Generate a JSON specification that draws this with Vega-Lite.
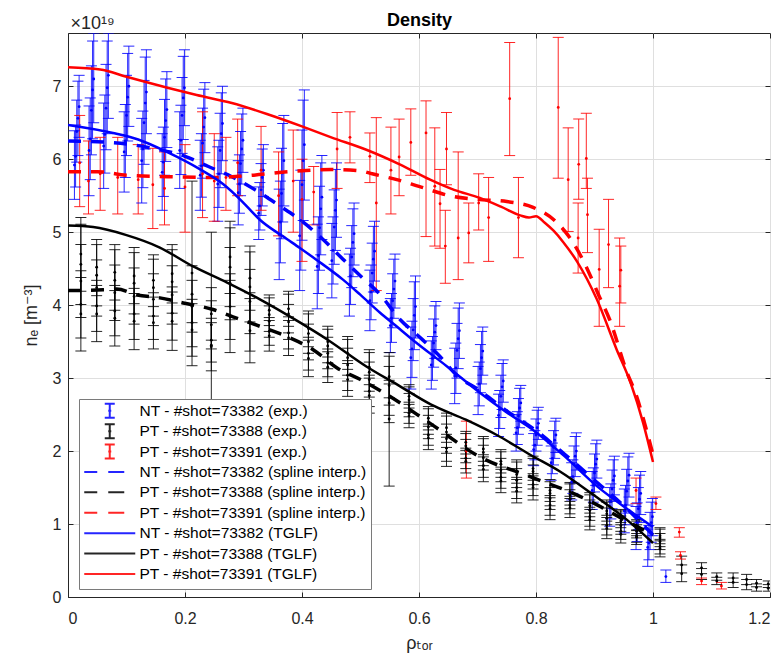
{
"$schema": "https://vega.github.io/schema/vega-lite/v6.json",
"width": 702, "height": 564,
"autosize": {"type": "none"},
"padding": {"left": 68, "top": 33, "right": 12, "bottom": 62},
"background": "white",
"config": {
  "font": "Liberation Sans",
  "view": {"stroke": "#262626", "strokeWidth": 1},
  "axis": {"domainColor": "#262626", "tickColor": "#262626", "labelColor": "#262626", "titleColor": "#262626", "gridColor": "#dfdfdf", "labelFontSize": 16, "titleFontSize": 18, "titleFontWeight": "normal", "tickSize": -5, "labelFont": "Liberation Sans", "titleFont": "Liberation Sans, DejaVu Sans"}
},
"datasets": {
"exp": [
{"s":"e1","x":0.011,"y":5.92,"l":5.45,"h":6.39},{"s":"e1","x":0.015,"y":6.38,"l":5.96,"h":6.81},{"s":"e1","x":0.019,"y":6.72,"l":6.3,"h":7.15},
{"s":"e1","x":0.036,"y":6.12,"l":5.5,"h":6.73},{"s":"e1","x":0.04,"y":6.67,"l":6.06,"h":7.28},{"s":"e1","x":0.044,"y":7.1,"l":6.5,"h":7.73},
{"s":"e1","x":0.061,"y":6.18,"l":5.6,"h":6.77},{"s":"e1","x":0.065,"y":6.7,"l":6.13,"h":7.3},{"s":"e1","x":0.069,"y":7.15,"l":6.56,"h":7.73},
{"s":"e1","x":0.096,"y":6.1,"l":5.55,"h":6.65},{"s":"e1","x":0.1,"y":6.6,"l":6.05,"h":7.15},{"s":"e1","x":0.104,"y":7.0,"l":6.45,"h":7.55},
{"s":"e1","x":0.126,"y":5.98,"l":5.4,"h":6.56},{"s":"e1","x":0.13,"y":6.5,"l":5.93,"h":7.08},{"s":"e1","x":0.134,"y":6.92,"l":6.35,"h":7.5},
{"s":"e1","x":0.161,"y":5.82,"l":5.3,"h":6.35},{"s":"e1","x":0.165,"y":6.3,"l":5.78,"h":6.82},{"s":"e1","x":0.169,"y":6.68,"l":6.16,"h":7.2},
{"s":"e1","x":0.191,"y":6.12,"l":5.6,"h":6.65},{"s":"e1","x":0.195,"y":6.6,"l":6.08,"h":7.12},{"s":"e1","x":0.199,"y":6.98,"l":6.46,"h":7.5},
{"s":"e1","x":0.226,"y":5.78,"l":5.3,"h":6.26},{"s":"e1","x":0.23,"y":6.22,"l":5.74,"h":6.7},{"s":"e1","x":0.234,"y":6.57,"l":6.09,"h":7.05},
{"s":"e1","x":0.256,"y":5.66,"l":5.15,"h":6.17},{"s":"e1","x":0.26,"y":6.12,"l":5.61,"h":6.63},{"s":"e1","x":0.264,"y":6.49,"l":5.98,"h":7.0},
{"s":"e1","x":0.291,"y":5.54,"l":5.1,"h":5.98},{"s":"e1","x":0.295,"y":5.94,"l":5.5,"h":6.38},{"s":"e1","x":0.299,"y":6.26,"l":5.82,"h":6.7},
{"s":"e1","x":0.326,"y":5.26,"l":4.9,"h":5.62},{"s":"e1","x":0.33,"y":5.58,"l":5.23,"h":5.94},{"s":"e1","x":0.334,"y":5.85,"l":5.49,"h":6.2},
{"s":"e1","x":0.361,"y":4.97,"l":4.35,"h":5.59},{"s":"e1","x":0.365,"y":5.53,"l":4.91,"h":6.15},{"s":"e1","x":0.369,"y":5.98,"l":5.36,"h":6.6},
{"s":"e1","x":0.396,"y":4.95,"l":4.2,"h":5.71},{"s":"e1","x":0.4,"y":5.65,"l":4.89,"h":6.4},{"s":"e1","x":0.404,"y":6.2,"l":5.44,"h":6.95},
{"s":"e1","x":0.426,"y":4.53,"l":3.95,"h":5.11},{"s":"e1","x":0.43,"y":5.06,"l":4.48,"h":5.63},{"s":"e1","x":0.434,"y":5.48,"l":4.9,"h":6.05},
{"s":"e1","x":0.451,"y":4.61,"l":4.1,"h":5.12},{"s":"e1","x":0.455,"y":5.07,"l":4.56,"h":5.58},{"s":"e1","x":0.459,"y":5.44,"l":4.93,"h":5.95},
{"s":"e1","x":0.481,"y":4.28,"l":3.85,"h":4.7},{"s":"e1","x":0.485,"y":4.66,"l":4.24,"h":5.09},{"s":"e1","x":0.489,"y":4.98,"l":4.55,"h":5.4},
{"s":"e1","x":0.516,"y":4.06,"l":3.65,"h":4.48},{"s":"e1","x":0.52,"y":4.44,"l":4.03,"h":4.85},{"s":"e1","x":0.524,"y":4.74,"l":4.33,"h":5.15},
{"s":"e1","x":0.551,"y":3.72,"l":3.35,"h":4.09},{"s":"e1","x":0.555,"y":4.06,"l":3.69,"h":4.43},{"s":"e1","x":0.559,"y":4.33,"l":3.96,"h":4.7},
{"s":"e1","x":0.586,"y":3.28,"l":2.85,"h":3.7},{"s":"e1","x":0.59,"y":3.66,"l":3.24,"h":4.09},{"s":"e1","x":0.594,"y":3.98,"l":3.55,"h":4.4},
{"s":"e1","x":0.621,"y":3.18,"l":2.85,"h":3.51},{"s":"e1","x":0.625,"y":3.48,"l":3.15,"h":3.81},{"s":"e1","x":0.629,"y":3.72,"l":3.39,"h":4.05},
{"s":"e1","x":0.661,"y":3.03,"l":2.65,"h":3.41},{"s":"e1","x":0.665,"y":3.38,"l":3.0,"h":3.75},{"s":"e1","x":0.669,"y":3.65,"l":3.27,"h":4.03},
{"s":"e1","x":0.701,"y":2.83,"l":2.5,"h":3.16},{"s":"e1","x":0.705,"y":3.13,"l":2.8,"h":3.46},{"s":"e1","x":0.709,"y":3.37,"l":3.04,"h":3.7},
{"s":"e1","x":0.736,"y":2.49,"l":2.2,"h":2.78},{"s":"e1","x":0.74,"y":2.75,"l":2.46,"h":3.04},{"s":"e1","x":0.744,"y":2.96,"l":2.67,"h":3.25},
{"s":"e1","x":0.766,"y":2.25,"l":2.0,"h":2.5},{"s":"e1","x":0.77,"y":2.48,"l":2.23,"h":2.72},{"s":"e1","x":0.774,"y":2.66,"l":2.41,"h":2.9},
{"s":"e1","x":0.796,"y":2.02,"l":1.8,"h":2.24},{"s":"e1","x":0.8,"y":2.22,"l":2.0,"h":2.44},{"s":"e1","x":0.804,"y":2.38,"l":2.16,"h":2.6},
{"s":"e1","x":0.826,"y":1.84,"l":1.6,"h":2.07},{"s":"e1","x":0.83,"y":2.05,"l":1.81,"h":2.28},{"s":"e1","x":0.834,"y":2.22,"l":1.98,"h":2.45},
{"s":"e1","x":0.861,"y":1.58,"l":1.33,"h":1.84},{"s":"e1","x":0.865,"y":1.82,"l":1.56,"h":2.07},{"s":"e1","x":0.869,"y":2.0,"l":1.74,"h":2.25},
{"s":"e1","x":0.896,"y":1.46,"l":1.2,"h":1.72},{"s":"e1","x":0.9,"y":1.7,"l":1.44,"h":1.96},{"s":"e1","x":0.904,"y":1.89,"l":1.63,"h":2.15},
{"s":"e1","x":0.926,"y":1.24,"l":0.97,"h":1.5},{"s":"e1","x":0.93,"y":1.48,"l":1.21,"h":1.74},{"s":"e1","x":0.934,"y":1.66,"l":1.4,"h":1.93},
{"s":"e1","x":0.951,"y":1.18,"l":0.88,"h":1.48},{"s":"e1","x":0.955,"y":1.45,"l":1.15,"h":1.75},{"s":"e1","x":0.959,"y":1.67,"l":1.37,"h":1.97},
{"s":"e1","x":0.971,"y":0.94,"l":0.65,"h":1.24},{"s":"e1","x":0.975,"y":1.21,"l":0.92,"h":1.5},{"s":"e1","x":0.979,"y":1.42,"l":1.13,"h":1.72},
{"s":"e1","x":0.991,"y":0.68,"l":0.42,"h":0.93},{"s":"e1","x":0.995,"y":0.9,"l":0.65,"h":1.16},{"s":"e1","x":0.999,"y":1.1,"l":0.84,"h":1.35},
{"s":"e1","x":1.022,"y":0.28,"l":0.2,"h":0.37},
{"s":"e1","x":0.013,"y":6.04,"l":5.62,"h":6.47},{"s":"e1","x":0.017,"y":6.56,"l":6.05,"h":7.07},
{"s":"e1","x":0.038,"y":6.28,"l":5.72,"h":6.84},{"s":"e1","x":0.042,"y":6.95,"l":6.28,"h":7.62},
{"s":"e1","x":0.063,"y":6.34,"l":5.81,"h":6.88},{"s":"e1","x":0.067,"y":6.98,"l":6.35,"h":7.62},
{"s":"e1","x":0.098,"y":6.25,"l":5.75,"h":6.75},{"s":"e1","x":0.102,"y":6.85,"l":6.25,"h":7.45},
{"s":"e1","x":0.128,"y":6.14,"l":5.61,"h":6.66},{"s":"e1","x":0.132,"y":6.77,"l":6.14,"h":7.4},
{"s":"e1","x":0.163,"y":5.96,"l":5.49,"h":6.44},{"s":"e1","x":0.167,"y":6.53,"l":5.97,"h":7.1},
{"s":"e1","x":0.193,"y":6.26,"l":5.79,"h":6.74},{"s":"e1","x":0.197,"y":6.84,"l":6.27,"h":7.41},
{"s":"e1","x":0.228,"y":5.91,"l":5.48,"h":6.35},{"s":"e1","x":0.232,"y":6.44,"l":5.91,"h":6.96},
{"s":"e1","x":0.258,"y":5.8,"l":5.34,"h":6.26},{"s":"e1","x":0.262,"y":6.35,"l":5.8,"h":6.91},
{"s":"e1","x":0.293,"y":5.66,"l":5.26,"h":6.06},{"s":"e1","x":0.297,"y":6.14,"l":5.66,"h":6.62},
{"s":"e1","x":0.328,"y":5.36,"l":5.03,"h":5.68},{"s":"e1","x":0.332,"y":5.75,"l":5.36,"h":6.14},
{"s":"e1","x":0.363,"y":5.14,"l":4.58,"h":5.7},{"s":"e1","x":0.367,"y":5.81,"l":5.14,"h":6.49},
{"s":"e1","x":0.398,"y":5.16,"l":4.48,"h":5.85},{"s":"e1","x":0.402,"y":5.98,"l":5.16,"h":6.81},
{"s":"e1","x":0.428,"y":4.68,"l":4.16,"h":5.21},{"s":"e1","x":0.432,"y":5.32,"l":4.69,"h":5.95},
{"s":"e1","x":0.453,"y":4.75,"l":4.29,"h":5.21},{"s":"e1","x":0.457,"y":5.3,"l":4.75,"h":5.86},
{"s":"e1","x":0.483,"y":4.4,"l":4.01,"h":4.78},{"s":"e1","x":0.487,"y":4.86,"l":4.39,"h":5.32},
{"s":"e1","x":0.518,"y":4.18,"l":3.8,"h":4.55},{"s":"e1","x":0.522,"y":4.63,"l":4.18,"h":5.08},
{"s":"e1","x":0.553,"y":3.82,"l":3.49,"h":4.16},{"s":"e1","x":0.557,"y":4.22,"l":3.82,"h":4.63},
{"s":"e1","x":0.588,"y":3.4,"l":3.01,"h":3.78},{"s":"e1","x":0.592,"y":3.86,"l":3.39,"h":4.32},
{"s":"e1","x":0.623,"y":3.27,"l":2.97,"h":3.57},{"s":"e1","x":0.627,"y":3.63,"l":3.27,"h":3.99},
{"s":"e1","x":0.663,"y":3.14,"l":2.79,"h":3.48},{"s":"e1","x":0.667,"y":3.54,"l":3.13,"h":3.96},
{"s":"e1","x":0.703,"y":2.92,"l":2.62,"h":3.22},{"s":"e1","x":0.707,"y":3.28,"l":2.92,"h":3.64},
{"s":"e1","x":0.738,"y":2.57,"l":2.31,"h":2.83},{"s":"e1","x":0.742,"y":2.88,"l":2.57,"h":3.2},
{"s":"e1","x":0.768,"y":2.32,"l":2.09,"h":2.54},{"s":"e1","x":0.772,"y":2.59,"l":2.32,"h":2.86},
{"s":"e1","x":0.798,"y":2.08,"l":1.88,"h":2.28},{"s":"e1","x":0.802,"y":2.32,"l":2.08,"h":2.56},
{"s":"e1","x":0.828,"y":1.9,"l":1.69,"h":2.11},{"s":"e1","x":0.832,"y":2.15,"l":1.9,"h":2.41},
{"s":"e1","x":0.863,"y":1.65,"l":1.42,"h":1.88},{"s":"e1","x":0.867,"y":1.93,"l":1.65,"h":2.2},
{"s":"e1","x":0.898,"y":1.53,"l":1.3,"h":1.77},{"s":"e1","x":0.902,"y":1.82,"l":1.53,"h":2.1},
{"s":"e1","x":0.928,"y":1.31,"l":1.07,"h":1.55},{"s":"e1","x":0.932,"y":1.6,"l":1.31,"h":1.88},
{"s":"e1","x":0.953,"y":1.26,"l":0.99,"h":1.53},{"s":"e1","x":0.957,"y":1.59,"l":1.26,"h":1.92},
{"s":"e1","x":0.973,"y":1.02,"l":0.76,"h":1.29},{"s":"e1","x":0.977,"y":1.34,"l":1.02,"h":1.67},
{"s":"e1","x":0.993,"y":0.74,"l":0.51,"h":0.98},{"s":"e1","x":0.997,"y":1.02,"l":0.75,"h":1.3},
{"s":"e2","x":0.022,"y":3.88,"l":3.37,"h":4.38},{"s":"e2","x":0.022,"y":4.33,"l":3.83,"h":4.83},{"s":"e2","x":0.022,"y":4.7,"l":4.19,"h":5.2},
{"s":"e2","x":0.049,"y":3.88,"l":3.5,"h":4.27},{"s":"e2","x":0.049,"y":4.24,"l":3.85,"h":4.62},{"s":"e2","x":0.049,"y":4.52,"l":4.13,"h":4.9},
{"s":"e2","x":0.08,"y":3.82,"l":3.44,"h":4.2},{"s":"e2","x":0.08,"y":4.17,"l":3.79,"h":4.55},{"s":"e2","x":0.08,"y":4.45,"l":4.07,"h":4.83},
{"s":"e2","x":0.113,"y":3.78,"l":3.39,"h":4.16},{"s":"e2","x":0.113,"y":4.12,"l":3.74,"h":4.51},{"s":"e2","x":0.113,"y":4.4,"l":4.02,"h":4.79},
{"s":"e2","x":0.146,"y":3.76,"l":3.4,"h":4.11},{"s":"e2","x":0.146,"y":4.08,"l":3.72,"h":4.43},{"s":"e2","x":0.146,"y":4.34,"l":3.98,"h":4.69},
{"s":"e2","x":0.178,"y":3.78,"l":3.38,"h":4.18},{"s":"e2","x":0.178,"y":4.14,"l":3.74,"h":4.54},{"s":"e2","x":0.178,"y":4.43,"l":4.03,"h":4.83},
{"s":"e2","x":0.212,"y":3.66,"l":3.3,"h":4.02},{"s":"e2","x":0.212,"y":3.98,"l":3.63,"h":4.34},{"s":"e2","x":0.212,"y":4.44,"l":3.17,"h":5.7},
{"s":"e2","x":0.245,"y":3.43,"l":3.1,"h":3.76},{"s":"e2","x":0.245,"y":3.73,"l":3.4,"h":4.06},{"s":"e2","x":0.245,"y":3.45,"l":1.9,"h":5.0},
{"s":"e2","x":0.277,"y":3.84,"l":3.35,"h":4.34},{"s":"e2","x":0.277,"y":4.3,"l":3.8,"h":4.79},{"s":"e2","x":0.277,"y":4.66,"l":4.16,"h":5.15},
{"s":"e2","x":0.311,"y":3.65,"l":3.21,"h":4.09},{"s":"e2","x":0.311,"y":4.05,"l":3.61,"h":4.49},{"s":"e2","x":0.311,"y":4.37,"l":3.93,"h":4.81},
{"s":"e2","x":0.344,"y":3.58,"l":3.37,"h":3.79},{"s":"e2","x":0.344,"y":3.78,"l":3.56,"h":3.99},{"s":"e2","x":0.344,"y":3.93,"l":3.72,"h":4.14},
{"s":"e2","x":0.377,"y":3.55,"l":3.31,"h":3.79},{"s":"e2","x":0.377,"y":3.77,"l":3.53,"h":4.01},{"s":"e2","x":0.377,"y":3.95,"l":3.71,"h":4.19},
{"s":"e2","x":0.411,"y":3.27,"l":3.02,"h":3.52},{"s":"e2","x":0.411,"y":3.5,"l":3.25,"h":3.74},{"s":"e2","x":0.411,"y":3.68,"l":3.43,"h":3.92},
{"s":"e2","x":0.444,"y":3.15,"l":2.94,"h":3.36},{"s":"e2","x":0.444,"y":3.34,"l":3.13,"h":3.56},{"s":"e2","x":0.444,"y":3.5,"l":3.29,"h":3.71},
{"s":"e2","x":0.478,"y":2.98,"l":2.75,"h":3.2},{"s":"e2","x":0.478,"y":3.18,"l":2.96,"h":3.41},{"s":"e2","x":0.478,"y":3.34,"l":3.12,"h":3.57},
{"s":"e2","x":0.515,"y":2.76,"l":2.52,"h":3.0},{"s":"e2","x":0.515,"y":2.98,"l":2.74,"h":3.22},{"s":"e2","x":0.515,"y":3.15,"l":2.91,"h":3.39},
{"s":"e2","x":0.549,"y":2.66,"l":2.39,"h":2.92},{"s":"e2","x":0.549,"y":2.9,"l":2.63,"h":3.16},{"s":"e2","x":0.549,"y":2.44,"l":1.52,"h":3.35},
{"s":"e2","x":0.583,"y":2.48,"l":2.32,"h":2.64},{"s":"e2","x":0.583,"y":2.63,"l":2.47,"h":2.79},{"s":"e2","x":0.583,"y":2.75,"l":2.59,"h":2.91},
{"s":"e2","x":0.616,"y":2.18,"l":2.02,"h":2.34},{"s":"e2","x":0.616,"y":2.33,"l":2.17,"h":2.49},{"s":"e2","x":0.616,"y":2.45,"l":2.29,"h":2.61},
{"s":"e2","x":0.647,"y":1.99,"l":1.79,"h":2.19},{"s":"e2","x":0.647,"y":2.17,"l":1.97,"h":2.37},{"s":"e2","x":0.647,"y":2.32,"l":2.12,"h":2.52},
{"s":"e2","x":0.68,"y":1.86,"l":1.7,"h":2.01},{"s":"e2","x":0.68,"y":2.0,"l":1.84,"h":2.16},{"s":"e2","x":0.68,"y":2.12,"l":1.96,"h":2.27},
{"s":"e2","x":0.71,"y":1.75,"l":1.58,"h":1.92},{"s":"e2","x":0.71,"y":1.91,"l":1.74,"h":2.08},{"s":"e2","x":0.71,"y":2.03,"l":1.86,"h":2.2},
{"s":"e2","x":0.74,"y":1.59,"l":1.43,"h":1.75},{"s":"e2","x":0.74,"y":1.74,"l":1.58,"h":1.9},{"s":"e2","x":0.74,"y":1.86,"l":1.7,"h":2.02},
{"s":"e2","x":0.767,"y":1.45,"l":1.29,"h":1.61},{"s":"e2","x":0.767,"y":1.6,"l":1.44,"h":1.76},{"s":"e2","x":0.767,"y":1.72,"l":1.56,"h":1.88},
{"s":"e2","x":0.795,"y":1.5,"l":1.33,"h":1.66},{"s":"e2","x":0.795,"y":1.64,"l":1.48,"h":1.81},{"s":"e2","x":0.795,"y":1.76,"l":1.6,"h":1.93},
{"s":"e2","x":0.824,"y":1.21,"l":1.06,"h":1.36},{"s":"e2","x":0.824,"y":1.35,"l":1.2,"h":1.5},{"s":"e2","x":0.824,"y":1.46,"l":1.31,"h":1.61},
{"s":"e2","x":0.858,"y":1.22,"l":1.09,"h":1.35},{"s":"e2","x":0.858,"y":1.34,"l":1.21,"h":1.47},{"s":"e2","x":0.858,"y":1.44,"l":1.31,"h":1.57},
{"s":"e2","x":0.892,"y":1.06,"l":0.92,"h":1.2},{"s":"e2","x":0.892,"y":1.19,"l":1.05,"h":1.33},{"s":"e2","x":0.892,"y":1.29,"l":1.15,"h":1.43},
{"s":"e2","x":0.921,"y":0.94,"l":0.8,"h":1.09},{"s":"e2","x":0.921,"y":1.08,"l":0.93,"h":1.22},{"s":"e2","x":0.921,"y":1.18,"l":1.04,"h":1.33},
{"s":"e2","x":0.945,"y":0.86,"l":0.74,"h":0.99},{"s":"e2","x":0.945,"y":0.98,"l":0.86,"h":1.11},{"s":"e2","x":0.945,"y":1.08,"l":0.95,"h":1.2},
{"s":"e2","x":0.972,"y":0.82,"l":0.72,"h":0.91},{"s":"e2","x":0.972,"y":0.9,"l":0.81,"h":0.99},{"s":"e2","x":0.972,"y":0.96,"l":0.87,"h":1.06},
{"s":"e2","x":1.012,"y":0.66,"l":0.55,"h":0.77},{"s":"e2","x":1.012,"y":0.76,"l":0.65,"h":0.87},{"s":"e2","x":1.012,"y":0.84,"l":0.73,"h":0.95},
{"s":"e2","x":1.049,"y":0.32,"l":0.21,"h":0.44},{"s":"e2","x":1.049,"y":0.44,"l":0.33,"h":0.56},
{"s":"e2","x":1.083,"y":0.31,"l":0.24,"h":0.39},{"s":"e2","x":1.083,"y":0.4,"l":0.32,"h":0.47},
{"s":"e2","x":1.109,"y":0.22,"l":0.17,"h":0.27},{"s":"e2","x":1.109,"y":0.28,"l":0.23,"h":0.33},
{"s":"e2","x":1.137,"y":0.2,"l":0.13,"h":0.26},{"s":"e2","x":1.137,"y":0.26,"l":0.2,"h":0.33},
{"s":"e2","x":1.16,"y":0.17,"l":0.1,"h":0.24},{"s":"e2","x":1.16,"y":0.24,"l":0.17,"h":0.31},
{"s":"e2","x":1.177,"y":0.13,"l":0.08,"h":0.18},{"s":"e2","x":1.177,"y":0.19,"l":0.14,"h":0.24},
{"s":"e2","x":1.197,"y":0.12,"l":0.08,"h":0.17},{"s":"e2","x":1.197,"y":0.18,"l":0.13,"h":0.22},
{"s":"e2","x":0.022,"y":4.01,"l":3.55,"h":4.47},{"s":"e2","x":0.022,"y":4.56,"l":4.01,"h":5.11},
{"s":"e2","x":0.049,"y":3.99,"l":3.64,"h":4.34},{"s":"e2","x":0.049,"y":4.41,"l":3.99,"h":4.83},
{"s":"e2","x":0.08,"y":3.92,"l":3.58,"h":4.27},{"s":"e2","x":0.08,"y":4.34,"l":3.93,"h":4.76},
{"s":"e2","x":0.113,"y":3.88,"l":3.53,"h":4.23},{"s":"e2","x":0.113,"y":4.3,"l":3.88,"h":4.72},
{"s":"e2","x":0.146,"y":3.85,"l":3.53,"h":4.17},{"s":"e2","x":0.146,"y":4.24,"l":3.85,"h":4.63},
{"s":"e2","x":0.178,"y":3.89,"l":3.52,"h":4.25},{"s":"e2","x":0.178,"y":4.32,"l":3.89,"h":4.76},
{"s":"e2","x":0.212,"y":3.76,"l":3.43,"h":4.08},{"s":"e2","x":0.212,"y":4.15,"l":3.76,"h":4.54},
{"s":"e2","x":0.245,"y":3.52,"l":3.22,"h":3.82},{"s":"e2","x":0.245,"y":3.88,"l":3.52,"h":4.24},
{"s":"e2","x":0.277,"y":3.98,"l":3.53,"h":4.43},{"s":"e2","x":0.277,"y":4.52,"l":3.98,"h":5.06},
{"s":"e2","x":0.311,"y":3.77,"l":3.37,"h":4.17},{"s":"e2","x":0.311,"y":4.25,"l":3.77,"h":4.73},
{"s":"e2","x":0.344,"y":3.64,"l":3.45,"h":3.83},{"s":"e2","x":0.344,"y":3.87,"l":3.64,"h":4.1},
{"s":"e2","x":0.377,"y":3.62,"l":3.4,"h":3.84},{"s":"e2","x":0.377,"y":3.88,"l":3.62,"h":4.15},
{"s":"e2","x":0.411,"y":3.34,"l":3.11,"h":3.56},{"s":"e2","x":0.411,"y":3.61,"l":3.34,"h":3.88},
{"s":"e2","x":0.444,"y":3.21,"l":3.02,"h":3.4},{"s":"e2","x":0.444,"y":3.44,"l":3.21,"h":3.67},
{"s":"e2","x":0.478,"y":3.04,"l":2.83,"h":3.24},{"s":"e2","x":0.478,"y":3.28,"l":3.04,"h":3.53},
{"s":"e2","x":0.515,"y":2.82,"l":2.61,"h":3.04},{"s":"e2","x":0.515,"y":3.08,"l":2.82,"h":3.35},
{"s":"e2","x":0.549,"y":2.73,"l":2.49,"h":2.97},{"s":"e2","x":0.549,"y":3.02,"l":2.73,"h":3.3},
{"s":"e2","x":0.583,"y":2.52,"l":2.38,"h":2.67},{"s":"e2","x":0.583,"y":2.7,"l":2.53,"h":2.88},
{"s":"e2","x":0.616,"y":2.22,"l":2.08,"h":2.37},{"s":"e2","x":0.616,"y":2.4,"l":2.23,"h":2.58},
{"s":"e2","x":0.647,"y":2.04,"l":1.86,"h":2.23},{"s":"e2","x":0.647,"y":2.26,"l":2.05,"h":2.48},
{"s":"e2","x":0.68,"y":1.9,"l":1.76,"h":2.04},{"s":"e2","x":0.68,"y":2.07,"l":1.9,"h":2.24},
{"s":"e2","x":0.71,"y":1.8,"l":1.64,"h":1.95},{"s":"e2","x":0.71,"y":1.98,"l":1.8,"h":2.17},
{"s":"e2","x":0.74,"y":1.64,"l":1.49,"h":1.78},{"s":"e2","x":0.74,"y":1.82,"l":1.64,"h":1.99},
{"s":"e2","x":0.767,"y":1.5,"l":1.35,"h":1.64},{"s":"e2","x":0.767,"y":1.68,"l":1.5,"h":1.85},
{"s":"e2","x":0.795,"y":1.54,"l":1.39,"h":1.69},{"s":"e2","x":0.795,"y":1.72,"l":1.54,"h":1.9},
{"s":"e2","x":0.824,"y":1.26,"l":1.12,"h":1.39},{"s":"e2","x":0.824,"y":1.42,"l":1.25,"h":1.58},
{"s":"e2","x":0.858,"y":1.26,"l":1.14,"h":1.38},{"s":"e2","x":0.858,"y":1.4,"l":1.26,"h":1.55},
{"s":"e2","x":0.892,"y":1.1,"l":0.97,"h":1.23},{"s":"e2","x":0.892,"y":1.25,"l":1.1,"h":1.4},
{"s":"e2","x":0.921,"y":0.98,"l":0.85,"h":1.12},{"s":"e2","x":0.921,"y":1.14,"l":0.99,"h":1.3},
{"s":"e2","x":0.945,"y":0.9,"l":0.79,"h":1.02},{"s":"e2","x":0.945,"y":1.04,"l":0.9,"h":1.18},
{"s":"e2","x":0.972,"y":0.84,"l":0.75,"h":0.92},{"s":"e2","x":0.972,"y":0.94,"l":0.84,"h":1.04},
{"s":"e2","x":1.012,"y":0.69,"l":0.59,"h":0.79},{"s":"e2","x":1.012,"y":0.81,"l":0.69,"h":0.93},
{"s":"e3","x":0.02,"y":5.95,"l":5.35,"h":6.6},{"s":"e3","x":0.035,"y":5.7,"l":5.25,"h":6.25},{"s":"e3","x":0.055,"y":5.8,"l":5.3,"h":6.3},
{"s":"e3","x":0.085,"y":5.75,"l":5.25,"h":6.3},{"s":"e3","x":0.12,"y":5.72,"l":5.25,"h":6.2},{"s":"e3","x":0.145,"y":5.65,"l":5.05,"h":6.15},
{"s":"e3","x":0.165,"y":5.6,"l":5.1,"h":6.1},{"s":"e3","x":0.2,"y":5.62,"l":5.0,"h":6.2},{"s":"e3","x":0.23,"y":5.8,"l":5.2,"h":6.65},
{"s":"e3","x":0.25,"y":5.7,"l":5.15,"h":6.35},{"s":"e3","x":0.27,"y":5.75,"l":5.3,"h":6.3},{"s":"e3","x":0.29,"y":5.95,"l":5.5,"h":6.55},
{"s":"e3","x":0.33,"y":5.85,"l":5.3,"h":6.45},{"s":"e3","x":0.36,"y":5.5,"l":4.95,"h":6.1},{"s":"e3","x":0.385,"y":5.7,"l":5.0,"h":6.4},
{"s":"e3","x":0.4,"y":5.45,"l":4.6,"h":6.0},{"s":"e3","x":0.42,"y":5.55,"l":5.1,"h":5.9},{"s":"e3","x":0.46,"y":6.14,"l":5.6,"h":6.64},
{"s":"e3","x":0.482,"y":6.3,"l":5.95,"h":6.65},{"s":"e3","x":0.516,"y":6.04,"l":5.68,"h":6.36},{"s":"e3","x":0.527,"y":5.4,"l":4.2,"h":6.57},
{"s":"e3","x":0.552,"y":5.85,"l":5.25,"h":6.44},{"s":"e3","x":0.566,"y":6.03,"l":5.5,"h":6.55},{"s":"e3","x":0.586,"y":6.23,"l":5.78,"h":6.69},
{"s":"e3","x":0.612,"y":6.36,"l":4.94,"h":6.8},{"s":"e3","x":0.627,"y":5.63,"l":4.81,"h":6.43},{"s":"e3","x":0.636,"y":5.39,"l":4.78,"h":5.86},
{"s":"e3","x":0.645,"y":4.81,"l":4.3,"h":5.3},{"s":"e3","x":0.647,"y":6.14,"l":5.65,"h":6.64},{"s":"e3","x":0.667,"y":4.92,"l":4.35,"h":6.1},
{"s":"e3","x":0.681,"y":2.0,"l":1.63,"h":2.41},{"s":"e3","x":0.685,"y":4.99,"l":4.58,"h":5.4},{"s":"e3","x":0.702,"y":5.4,"l":5.03,"h":5.8},
{"s":"e3","x":0.719,"y":5.2,"l":4.6,"h":5.75},{"s":"e3","x":0.755,"y":6.83,"l":6.05,"h":7.6},{"s":"e3","x":0.77,"y":5.2,"l":4.65,"h":5.75},
{"s":"e3","x":0.838,"y":6.71,"l":5.74,"h":7.67},{"s":"e3","x":0.855,"y":5.72,"l":5.01,"h":6.43},{"s":"e3","x":0.872,"y":4.92,"l":4.44,"h":5.4},
{"s":"e3","x":0.873,"y":5.93,"l":5.45,"h":6.55},{"s":"e3","x":0.888,"y":5.24,"l":4.72,"h":5.74},{"s":"e3","x":0.886,"y":6.01,"l":5.6,"h":6.63},
{"s":"e3","x":0.908,"y":4.49,"l":3.71,"h":5.04},{"s":"e3","x":0.924,"y":4.83,"l":4.24,"h":5.45},{"s":"e3","x":0.943,"y":4.26,"l":3.71,"h":4.92},
{"s":"e3","x":0.945,"y":4.48,"l":4.03,"h":4.81},{"s":"e3","x":0.971,"y":1.46,"l":1.28,"h":1.63},{"s":"e3","x":1.005,"y":1.28,"l":1.2,"h":1.37},
{"s":"e3","x":1.045,"y":0.89,"l":0.82,"h":0.95},{"s":"e3","x":1.047,"y":0.57,"l":0.52,"h":0.62},{"s":"e3","x":1.083,"y":0.22,"l":0.17,"h":0.26},
{"s":"e3","x":1.117,"y":0.15,"l":0.11,"h":0.2}
],
"ln": [
{"s":"s1","x":0,"y":6.25},{"s":"s1","x":0.05,"y":6.24},{"s":"s1","x":0.1,"y":6.21},{"s":"s1","x":0.15,"y":6.14},{"s":"s1","x":0.2,"y":6.04},{"s":"s1","x":0.24,"y":5.9},{"s":"s1","x":0.28,"y":5.76},{"s":"s1","x":0.32,"y":5.58},{"s":"s1","x":0.36,"y":5.37},{"s":"s1","x":0.4,"y":5.15},{"s":"s1","x":0.436,"y":4.9},{"s":"s1","x":0.47,"y":4.63},{"s":"s1","x":0.5,"y":4.4},{"s":"s1","x":0.533,"y":4.15},{"s":"s1","x":0.568,"y":3.8},{"s":"s1","x":0.6,"y":3.57},{"s":"s1","x":0.633,"y":3.32},{"s":"s1","x":0.667,"y":3.02},{"s":"s1","x":0.7,"y":2.85},{"s":"s1","x":0.75,"y":2.55},{"s":"s1","x":0.8,"y":2.28},{"s":"s1","x":0.85,"y":1.95},{"s":"s1","x":0.9,"y":1.6},{"s":"s1","x":0.95,"y":1.25},{"s":"s1","x":1.0,"y":0.85},
{"s":"s2","x":0,"y":4.2},{"s":"s2","x":0.06,"y":4.21},{"s":"s2","x":0.083,"y":4.22},{"s":"s2","x":0.118,"y":4.14},{"s":"s2","x":0.157,"y":4.1},{"s":"s2","x":0.197,"y":4.03},{"s":"s2","x":0.248,"y":3.94},{"s":"s2","x":0.282,"y":3.84},{"s":"s2","x":0.328,"y":3.71},{"s":"s2","x":0.374,"y":3.57},{"s":"s2","x":0.419,"y":3.39},{"s":"s2","x":0.46,"y":3.14},{"s":"s2","x":0.5,"y":2.98},{"s":"s2","x":0.54,"y":2.8},{"s":"s2","x":0.619,"y":2.38},{"s":"s2","x":0.704,"y":1.92},{"s":"s2","x":0.79,"y":1.65},{"s":"s2","x":0.875,"y":1.38},{"s":"s2","x":0.96,"y":1.02},{"s":"s2","x":1.0,"y":0.85},
{"s":"s3","x":0,"y":5.83},{"s":"s3","x":0.05,"y":5.83},{"s":"s3","x":0.1,"y":5.78},{"s":"s3","x":0.17,"y":5.76},{"s":"s3","x":0.25,"y":5.75},{"s":"s3","x":0.3,"y":5.77},{"s":"s3","x":0.38,"y":5.83},{"s":"s3","x":0.45,"y":5.86},{"s":"s3","x":0.5,"y":5.84},{"s":"s3","x":0.52,"y":5.8},{"s":"s3","x":0.562,"y":5.72},{"s":"s3","x":0.607,"y":5.61},{"s":"s3","x":0.658,"y":5.49},{"s":"s3","x":0.7,"y":5.45},{"s":"s3","x":0.75,"y":5.42},{"s":"s3","x":0.795,"y":5.34},{"s":"s3","x":0.836,"y":5.13},{"s":"s3","x":0.864,"y":4.85},{"s":"s3","x":0.888,"y":4.49},{"s":"s3","x":0.907,"y":4.14},{"s":"s3","x":0.926,"y":3.8},{"s":"s3","x":0.955,"y":3.09},{"s":"s3","x":0.972,"y":2.75},{"s":"s3","x":0.985,"y":2.4},{"s":"s3","x":1.0,"y":1.95},
{"s":"t1","x":0,"y":6.47},{"s":"t1","x":0.077,"y":6.36},{"s":"t1","x":0.12,"y":6.27},{"s":"t1","x":0.169,"y":6.1},{"s":"t1","x":0.226,"y":5.86},{"s":"t1","x":0.265,"y":5.66},{"s":"t1","x":0.294,"y":5.45},{"s":"t1","x":0.311,"y":5.31},{"s":"t1","x":0.328,"y":5.17},{"s":"t1","x":0.368,"y":4.94},{"s":"t1","x":0.397,"y":4.78},{"s":"t1","x":0.425,"y":4.62},{"s":"t1","x":0.47,"y":4.35},{"s":"t1","x":0.5,"y":4.14},{"s":"t1","x":0.533,"y":3.9},{"s":"t1","x":0.56,"y":3.72},{"s":"t1","x":0.59,"y":3.52},{"s":"t1","x":0.648,"y":3.16},{"s":"t1","x":0.704,"y":2.8},{"s":"t1","x":0.75,"y":2.53},{"s":"t1","x":0.795,"y":2.29},{"s":"t1","x":0.85,"y":1.92},{"s":"t1","x":0.904,"y":1.52},{"s":"t1","x":0.95,"y":1.24},{"s":"t1","x":1.0,"y":0.96},
{"s":"t2","x":0,"y":5.09},{"s":"t2","x":0.043,"y":5.07},{"s":"t2","x":0.1,"y":4.96},{"s":"t2","x":0.157,"y":4.79},{"s":"t2","x":0.214,"y":4.53},{"s":"t2","x":0.272,"y":4.31},{"s":"t2","x":0.328,"y":4.08},{"s":"t2","x":0.397,"y":3.76},{"s":"t2","x":0.443,"y":3.53},{"s":"t2","x":0.51,"y":3.16},{"s":"t2","x":0.565,"y":2.9},{"s":"t2","x":0.62,"y":2.64},{"s":"t2","x":0.68,"y":2.43},{"s":"t2","x":0.733,"y":2.22},{"s":"t2","x":0.79,"y":1.95},{"s":"t2","x":0.841,"y":1.72},{"s":"t2","x":0.898,"y":1.4},{"s":"t2","x":0.955,"y":1.06},{"s":"t2","x":1.0,"y":0.74},
{"s":"t3","x":0,"y":7.26},{"s":"t3","x":0.055,"y":7.23},{"s":"t3","x":0.1,"y":7.13},{"s":"t3","x":0.17,"y":6.98},{"s":"t3","x":0.22,"y":6.88},{"s":"t3","x":0.28,"y":6.77},{"s":"t3","x":0.34,"y":6.62},{"s":"t3","x":0.4,"y":6.45},{"s":"t3","x":0.45,"y":6.3},{"s":"t3","x":0.51,"y":6.13},{"s":"t3","x":0.567,"y":5.93},{"s":"t3","x":0.619,"y":5.72},{"s":"t3","x":0.66,"y":5.58},{"s":"t3","x":0.704,"y":5.47},{"s":"t3","x":0.74,"y":5.35},{"s":"t3","x":0.773,"y":5.23},{"s":"t3","x":0.788,"y":5.2},{"s":"t3","x":0.8,"y":5.22},{"s":"t3","x":0.815,"y":5.13},{"s":"t3","x":0.83,"y":5.02},{"s":"t3","x":0.846,"y":4.87},{"s":"t3","x":0.87,"y":4.6},{"s":"t3","x":0.904,"y":4.08},{"s":"t3","x":0.938,"y":3.39},{"s":"t3","x":0.962,"y":2.93},{"s":"t3","x":0.983,"y":2.39},{"s":"t3","x":1.0,"y":1.85}
]
},
"encoding": {
  "x": {"field": "x", "type": "quantitative", "scale": {"domain": [0, 1.2], "nice": false, "zero": false}, "axis": null},
  "color": {"field": "s", "type": "nominal", "scale": {"domain": ["e1","e2","e3","s1","s2","s3","t1","t2","t3"], "range": ["#0000ff","#000000","#ff0000","#0000ff","#000000","#ff0000","#0000ff","#000000","#ff0000"]}, "legend": null}
},
"layer": [
  {"data": {"name": "exp"},
   "mark": {"type": "rule", "strokeWidth": 1, "opacity": 0.85, "clip": true},
   "encoding": {
     "x": {"field": "x", "type": "quantitative", "scale": {"domain": [0, 1.2], "nice": false, "zero": false},
           "axis": {"orient": "bottom", "values": [0,0.2,0.4,0.6,0.8,1,1.2], "format": "~g", "grid": true, "labelPadding": 18, "title": "ρₜₒᵣ", "titleX": 351, "titleY": 51, "titleBaseline": "alphabetic", "titleAlign": "center"}},
     "y": {"field": "l", "type": "quantitative", "scale": {"domain": [0, 7.73], "nice": false},
           "axis": {"orient": "left", "values": [0,1,2,3,4,5,6,7], "grid": true, "labelPadding": 12, "title": "nₑ [m⁻³]", "titleX": -32, "titleAngle": -90, "titleBaseline": "alphabetic"}},
     "y2": {"field": "h"},
     "color": {"field": "s", "type": "nominal",
       "scale": {"domain": ["e1","e2","e3","s1","s2","s3","t1","t2","t3"], "range": ["#0000ff","#000000","#ff0000","#0000ff","#000000","#ff0000","#0000ff","#000000","#ff0000"]},
       "legend": {"orient": "none", "legendX": 11, "legendY": 366, "title": null, "direction": "vertical",
         "fillColor": "white", "strokeColor": "#7a7a7a", "padding": 4, "cornerRadius": 0,
         "labelFont": "Liberation Sans", "labelFontSize": 15.5, "labelColor": "#000000", "labelLimit": 400,
         "symbolSize": 100, "symbolOffset": 19, "labelOffset": 22, "symbolStrokeWidth": 2, "rowPadding": -2.6,
         "symbolType": {"expr": "substring(datum.value,0,1)=='e' ? 'M0,-1.4L0,1.4M-1,-1.4L1,-1.4M-1,1.4L1,1.4M-0.3,0L0.3,0' : 'M-5.1,0L5.1,0M0,-1.4L0,-1.4M0,1.4L0,1.4'"},
         "symbolDash": {"expr": "substring(datum.value,0,1)=='s' ? [13,11,16,30] : [1,0]"},
         "labelExpr": "['NT - #shot=73382 (exp.)','PT - #shot=73388 (exp.)','PT - #shot=73391 (exp.)','NT - #shot=73382 (spline interp.)','PT - #shot=73388 (spline interp.)','PT - #shot=73391 (spline interp.)','NT - #shot=73382 (TGLF)','PT - #shot=73388 (TGLF)','PT - #shot=73391 (TGLF)'][indexof(['e1','e2','e3','s1','s2','s3','t1','t2','t3'], datum.value)]"
       }}
   }},
  {"data": {"name": "exp"},
   "mark": {"type": "tick", "orient": "horizontal", "size": 11, "thickness": 1, "opacity": 0.85, "clip": true},
   "encoding": {"y": {"field": "l", "type": "quantitative", "scale": {"domain": [0, 7.73], "nice": false}, "axis": null}}},
  {"data": {"name": "exp"},
   "mark": {"type": "tick", "orient": "horizontal", "size": 11, "thickness": 1, "opacity": 0.85, "clip": true},
   "encoding": {"y": {"field": "h", "type": "quantitative", "scale": {"domain": [0, 7.73], "nice": false}, "axis": null}}},
  {"data": {"name": "exp"},
   "mark": {"type": "point", "filled": true, "size": 8, "opacity": 1, "clip": true},
   "encoding": {"y": {"field": "y", "type": "quantitative", "scale": {"domain": [0, 7.73], "nice": false}, "axis": null}}},
  {"data": {"name": "ln"},
   "transform": [{"filter": "substring(datum.s,0,1)=='s'"}],
   "mark": {"type": "line", "strokeWidth": 3.5, "strokeDash": [13, 10], "interpolate": "monotone", "clip": true},
   "encoding": {"y": {"field": "y", "type": "quantitative", "scale": {"domain": [0, 7.73], "nice": false}, "axis": null}}},
  {"data": {"name": "ln"},
   "transform": [{"filter": "substring(datum.s,0,1)=='t'"}],
   "mark": {"type": "line", "strokeWidth": 2.5, "interpolate": "monotone", "clip": true},
   "encoding": {
     "x": {"field": "x", "type": "quantitative", "scale": {"domain": [0, 1.2], "nice": false, "zero": false},
           "axis": {"orient": "top", "values": [0,0.2,0.4,0.6,0.8,1,1.2], "labels": false, "domain": false, "grid": false,
                    "title": "Density", "titleFontWeight": "bold", "titleFontSize": 18, "titleColor": "#000000", "titleFont": "Liberation Sans",
                    "titleX": 351, "titleY": -8, "titleBaseline": "alphabetic", "titleAlign": "center", "titleAngle": 0}},
     "y": {"field": "y", "type": "quantitative", "scale": {"domain": [0, 7.73], "nice": false},
           "axis": {"orient": "right", "values": [0,1,2,3,4,5,6,7], "labels": false, "domain": false, "grid": false,
                    "title": "×10¹⁹", "titleFontSize": 18, "titleFontWeight": "normal", "titleFont": "Liberation Sans",
                    "titleX": -700, "titleY": -5, "titleAngle": 0, "titleAlign": "left", "titleBaseline": "alphabetic"}}
   }}
],
"resolve": {"axis": {"x": "independent", "y": "independent"}}
}
